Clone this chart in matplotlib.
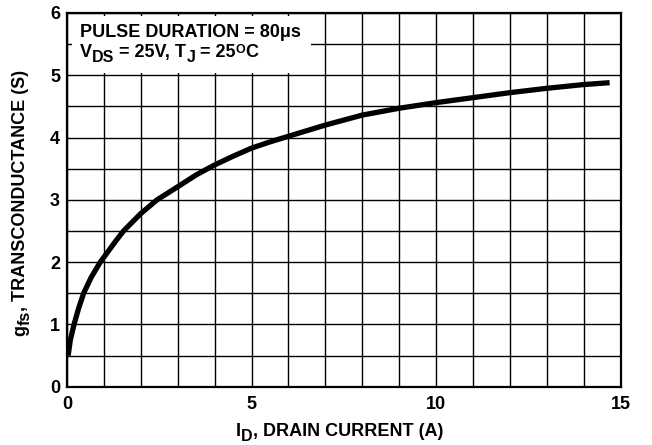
import numpy as np
import matplotlib
matplotlib.use("Agg")
import matplotlib.pyplot as plt
from matplotlib.patches import Rectangle

plt.rcParams['font.family'] = ['Liberation Sans', 'DejaVu Sans']
plt.rcParams['font.weight'] = 'bold'

# courbe gfs = f(ID)
id_drain = [0.03, 0.09, 0.19, 0.31, 0.45, 0.65, 0.9, 1.0, 1.31, 1.53, 2.0, 2.44,
            3.0, 3.5, 4.0, 4.5, 5.0, 5.5, 6.0, 7.0, 8.0, 9.0, 10.0, 11.0, 12.0,
            13.0, 14.0, 14.7]
gfs = [0.5, 0.75, 1.0, 1.25, 1.5, 1.75, 2.0, 2.08, 2.33, 2.5, 2.78, 3.0,
       3.21, 3.4, 3.56, 3.7, 3.83, 3.93, 4.02, 4.2, 4.36, 4.47, 4.56, 4.64, 4.72,
       4.79, 4.85, 4.88]

x_ticks = [0, 5, 10, 15]
y_ticks = [0, 1, 2, 3, 4, 5, 6]
x_grid = np.arange(0, 16, 1)
y_grid = np.arange(0, 6.5, 0.5)

# morceaux de texte : (texte, taille, decalage vertical en points)
ligne1 = [('PULSE DURATION = 80\u03bcs', 13, 0)]
ligne2 = [('V', 13, 0), ('DS', 11.5, -3.6), (' = 25V, T', 13, 0), ('J', 11.5, -3.6),
          (' = 25', 13, 0), ('O', 9, 3.2), ('C', 13, 0)]
label_x = [('I', 13, 0), ('D', 11.5, -3.6), (', DRAIN CURRENT (A)', 13, 0)]
label_y = [('g', 13, 0), ('fs', 11.5, -3.6), (', TRANSCONDUCTANCE (S)', 13, 0)]

fig = plt.figure(figsize=(6.52, 4.45), dpi=100)
ax = fig.add_axes([0.1028, 0.131, 0.8492, 0.84])


def ecrire(x0, y0, morceaux, vertical=False):
    prec = None
    for txt, taille, dy in morceaux:
        if vertical:
            kw = dict(rotation=90, rotation_mode='anchor')
            if prec is None:
                xy, coords = (x0, y0), 'figure fraction'
            else:
                xy, coords = (x0, 1), ('figure fraction', prec)
            off = (-dy, 0)
        else:
            kw = {}
            if prec is None:
                xy, coords = (x0, y0), 'figure fraction'
            else:
                xy, coords = (1, y0), (prec, 'figure fraction')
            off = (0, dy)
        prec = ax.annotate(txt, xy=xy, xycoords=coords, xytext=off,
                           textcoords='offset points', fontsize=taille,
                           fontweight='bold', ha='left', va='baseline',
                           annotation_clip=False, zorder=5, **kw)


ax.set_xlim(0, 15)
ax.set_ylim(0, 6)
ax.set_xticks(x_ticks)
ax.set_yticks(y_ticks)
ax.set_xticks(x_grid, minor=True)
ax.set_yticks(y_grid, minor=True)
ax.grid(True, which='both', color='black', linewidth=1.0)
ax.set_axisbelow(True)
ax.tick_params(which='both', length=0)
ax.tick_params(axis='x', pad=7, labelsize=13)
ax.tick_params(axis='y', pad=5, labelsize=13)
for s in ax.spines.values():
    s.set_linewidth(1.6)
    s.set_color('black')

ax.plot(id_drain, gfs, color='black', linewidth=3.8, solid_capstyle='butt',
        solid_joinstyle='round', zorder=3)

# cadre blanc du texte
ax.add_patch(Rectangle((0.009, 0.839), 0.432, 0.152, transform=ax.transAxes,
                       facecolor='white', edgecolor='none', zorder=2.5))
ecrire(80 / 652, 1 - 36.7 / 445, ligne1)
ecrire(80 / 652, 1 - 57 / 445, ligne2)

ecrire(236 / 652, 1 - 436 / 445, label_x)
ecrire(25 / 652, 1 - 336 / 445, label_y, vertical=True)

fig.savefig('out.png', dpi=100)
